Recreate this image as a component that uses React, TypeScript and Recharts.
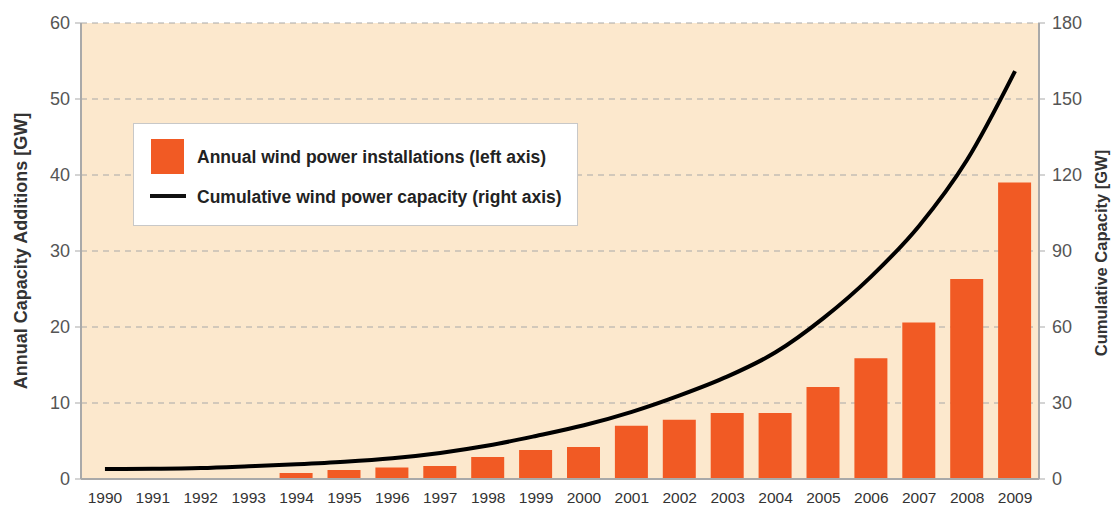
import React from 'react';
import { ComposedChart, Bar, Line, XAxis, YAxis, CartesianGrid } from 'recharts';

const YEARS = [
  '1990', '1991', '1992', '1993', '1994', '1995', '1996', '1997', '1998', '1999',
  '2000', '2001', '2002', '2003', '2004', '2005', '2006', '2007', '2008', '2009',
];
// annual installations, GW (left axis)
const ANNUAL = [0, 0, 0, 0, 0.8, 1.2, 1.5, 1.7, 2.9, 3.8, 4.2, 7.0, 7.8, 8.7, 8.7, 12.1, 15.9, 20.6, 26.3, 39.0];
// cumulative capacity, GW (right axis)
const CUMULATIVE = [3.9, 4.0, 4.3, 5.0, 5.8, 6.8, 8.2, 10.3, 13.2, 17.0, 21.2, 26.5, 33.0, 40.5, 50, 63.5, 80, 100, 126, 161];
const LEFT_TICKS = [0, 10, 20, 30, 40, 50, 60];
const RIGHT_TICKS = [0, 30, 60, 90, 120, 150, 180];

const data = YEARS.map((year, i) => ({ year, annual: ANNUAL[i], cumulative: CUMULATIVE[i] }));

const ORANGE = '#f15a24';
const FONT = '"Liberation Sans", Arial, sans-serif';
const titleStyle = { textAnchor: 'middle', fill: '#333', fontWeight: 'bold', fontFamily: FONT };

// legend sits inside the plot as a white box
const LegendBox = () => (
  <div
    style={{
      position: 'absolute',
      left: 133,
      top: 123,
      background: '#ffffff',
      border: '1px solid #c8c8c8',
      width: 445,
      height: 103,
      boxSizing: 'border-box',
      fontFamily: FONT,
      fontSize: 17.5,
      fontWeight: 'bold',
      color: '#222',
      lineHeight: '20px',
    }}
  >
    <div style={{ position: 'absolute', left: 17, top: 15, width: 33, height: 35, background: ORANGE }} />
    <div style={{ position: 'absolute', left: 63, top: 23, whiteSpace: 'nowrap' }}>
      Annual wind power installations (left axis)
    </div>
    <div style={{ position: 'absolute', left: 16, top: 70, width: 36, height: 4, background: '#111' }} />
    <div style={{ position: 'absolute', left: 63, top: 63, whiteSpace: 'nowrap' }}>
      Cumulative wind power capacity (right axis)
    </div>
  </div>
);

const App: React.FC = () => {
  return (
    <div style={{ position: 'absolute', left: 0, top: 0, width: 1117, height: 510, background: '#fff' }}>
      <ComposedChart
        width={1117}
        height={510}
        data={data}
        margin={{ top: 23, right: 0, left: 0, bottom: 0 }}
      >
        <CartesianGrid
          vertical={false}
          fill="#fce8cd"
          stroke="#a8a8a8"
          strokeDasharray="6 5"
          yAxisId="left"
        />
        <XAxis
          dataKey="year"
          height={31}
          interval={0}
          tickLine={false}
          tickMargin={7}
          axisLine={{ stroke: '#a9a9a9', strokeWidth: 2 }}
          tick={{ fill: '#333', fontSize: 15.5, fontFamily: FONT }}
        />
        <YAxis
          yAxisId="left"
          width={81}
          domain={[0, 60]}
          ticks={LEFT_TICKS}
          tickSize={6}
          tickMargin={5}
          axisLine={{ stroke: '#a9a9a9', strokeWidth: 2 }}
          tickLine={{ stroke: '#a9a9a9' }}
          tick={{ fill: '#555', fontSize: 18, fontFamily: FONT }}
          label={{
            value: 'Annual Capacity Additions [GW]',
            angle: -90,
            position: 'insideLeft',
            offset: 0,
            dx: 21,
            style: { ...titleStyle, fontSize: 18 },
          }}
        />
        <YAxis
          yAxisId="right"
          orientation="right"
          width={78}
          domain={[0, 180]}
          ticks={RIGHT_TICKS}
          tickSize={6}
          tickMargin={7}
          axisLine={{ stroke: '#a9a9a9', strokeWidth: 2 }}
          tickLine={{ stroke: '#a9a9a9' }}
          tick={{ fill: '#555', fontSize: 18, fontFamily: FONT }}
          label={{
            value: 'Cumulative Capacity [GW]',
            angle: -90,
            position: 'insideRight',
            offset: 0,
            dx: -16,
            dy: 2,
            style: { ...titleStyle, fontSize: 16.5 },
          }}
        />
        <Bar yAxisId="left" dataKey="annual" fill={ORANGE} barSize={33} isAnimationActive={false} />
        <Line
          yAxisId="right"
          dataKey="cumulative"
          type="monotone"
          stroke="#000"
          strokeWidth={4}
          dot={false}
          activeDot={false}
          isAnimationActive={false}
        />
      </ComposedChart>
      <LegendBox />
    </div>
  );
};

export default App;
